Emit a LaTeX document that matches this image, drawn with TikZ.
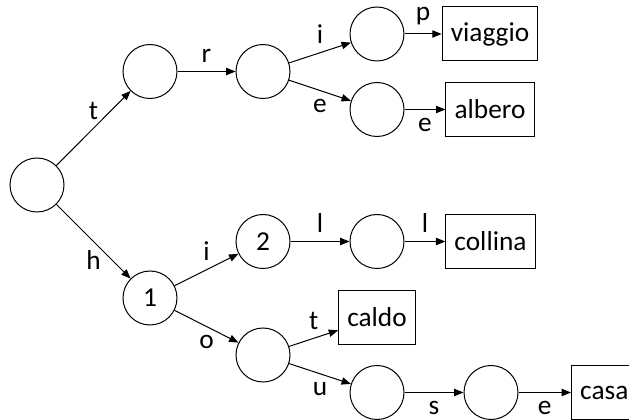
\documentclass[tikz,border=0pt]{standalone}
\usepackage{fontspec}
\setmainfont{Carlito}
\usetikzlibrary{arrows.meta}

\tikzset{
    state/.style={circle, draw, line width=0.75pt, minimum size=40.5pt, inner sep=0pt},
    word/.style={rectangle, draw, line width=0.75pt, minimum height=40.5pt, inner xsep=6.5pt},
    edge/.style={-{Triangle[length=7pt, width=5.5pt]}, line width=0.75pt},
    up/.style={above=3pt},
    down/.style={below=3pt}
}

\begin{document}
\begin{tikzpicture}[x=0.75pt, y=-0.75pt, font=\fontsize{20.5}{24}\selectfont]

        \useasboundingbox (0, 0) rectangle (629, 420);

        \draw (37, 185) node[state] (R) {};
        \draw (150, 71.5) node[state] (T) {};
        \draw (263, 71.5) node[state] (TR) {};
        \draw (377, 34) node[state] (TRI) {};
        \draw (377, 109.5) node[state] (TRE) {};
        \draw (150, 298) node[state] (H) {1};
        \draw (263, 241.5) node[state] (HI) {2};
        \draw (377, 241.5) node[state] (HIL) {};
        \draw (263, 355) node[state] (HO) {};
        \draw (377, 392.5) node[state] (HOU) {};
        \draw (491, 392.5) node[state] (HOUS) {};

        \draw (490, 34) node[word] (viaggio) {viaggio};
        \draw (490, 109.5) node[word] (albero) {albero};
        \draw (490.5, 241.5) node[word] (collina) {collina};
        \draw (377, 317.5) node[word] (caldo) {caldo};
        \draw (571, 392.5) node[word, anchor=west] (casa) {casa};

        \draw [edge] (R) to node[up] {t} (T);
        \draw [edge] (T) to node[up] {r} (TR);
        \draw [edge] (TR) to node[up] {i} (TRI);
        \draw [edge] (TR) to node[down] {e} (TRE);
        \draw [edge] (TRI) to node[up] {p} (viaggio);
        \draw [edge] (TRE) to node[down] {e} (albero);

        \draw [edge] (R) to node[down] {h} (H);
        \draw [edge] (H) to node[up] {i} (HI);
        \draw [edge] (HI) to node[up] {l} (HIL);
        \draw [edge] (HIL) to node[up] {l} (collina);
        \draw [edge] (H) to node[down] {o} (HO);
        \draw [edge] (HO) to node[up] {t} (caldo);
        \draw [edge] (HO) to node[down] {u} (HOU);
        \draw [edge] (HOU) to node[down] {s} (HOUS);
        \draw [edge] (HOUS) to node[down] {e} (casa);

\end{tikzpicture}
\end{document}
